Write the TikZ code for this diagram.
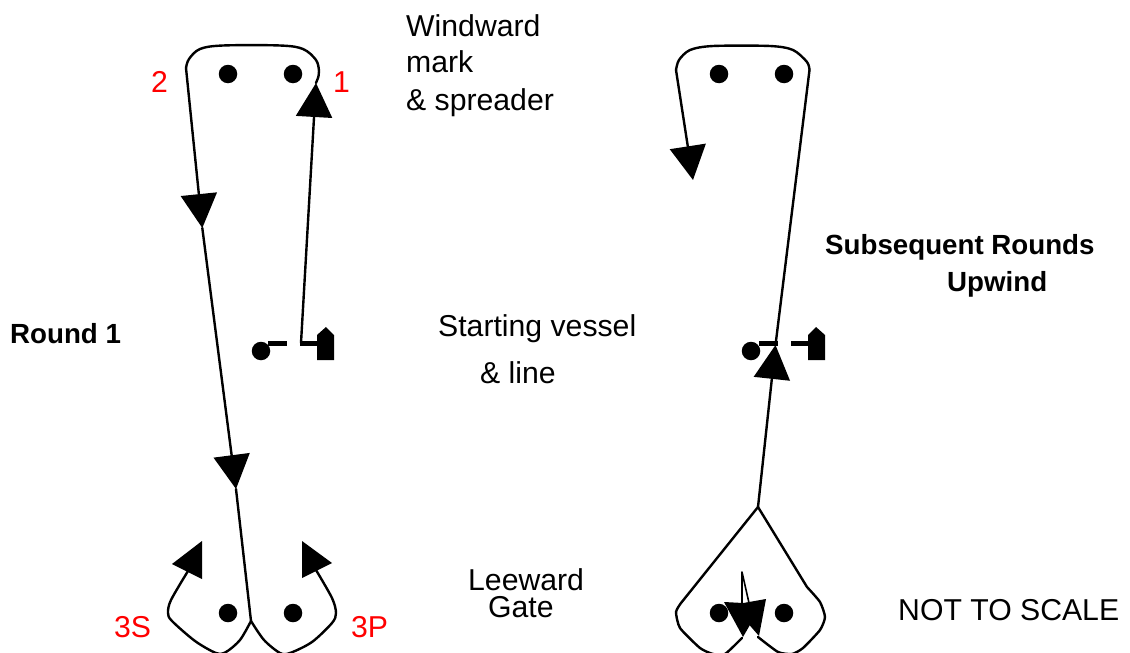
\documentclass[tikz,border=0pt]{standalone}
\usepackage{fontspec}
\setmainfont{Liberation Sans}
\usetikzlibrary{arrows.meta}
\tikzset{
  course/.style={draw=black,line width=2.4pt,line join=round,line cap=round},
  arrowed/.style={course,-{Triangle[length=34pt,width=36pt]}},
  head/.style={fill=black,draw=none},
  thin spike/.style={draw=black,line width=1.6pt,line join=round},
  mark dot/.style={circle,fill=black,draw=none,minimum size=18.5pt,inner sep=0pt},
  startline/.style={draw=black,line width=5pt},
  vessel/.style={fill=black,draw=none},
  label/.style={anchor=base west,inner sep=0pt,font=\fontsize{30.2}{34}\selectfont,text=black},
  redlabel/.style={label,text=red},
  boldlabel/.style={anchor=base west,inner sep=0pt,font=\fontsize{27.7}{32}\bfseries\selectfont,text=black},
}
\begin{document}
\begin{tikzpicture}[x=1pt,y=-1pt]
\clip (0,0) rectangle (1130,653);
% marks
\node[mark dot] (wl1) at (228,74) {};
\node[mark dot] (wr1) at (293,74) {};
\node[mark dot] (gl1) at (228,613) {};
\node[mark dot] (gr1) at (293,613) {};
\node[mark dot] (sd1) at (261,351) {};
\node[mark dot] (wl2) at (719,74) {};
\node[mark dot] (wr2) at (784,74) {};
\node[mark dot] (gl2) at (719,613) {};
\node[mark dot] (gr2) at (784,613) {};
\node[mark dot] (sd2) at (751,351) {};
% junctions
\coordinate (s1) at (301,343);
\coordinate (t1) at (316,83);
\coordinate (t2) at (202.3,228);
\coordinate (t3) at (236,489);
\coordinate (j1) at (251,621);
\coordinate (apex) at (758,507);
\coordinate (t4) at (775.5,345);
\coordinate (top2) at (809.5,70);
\coordinate (t5) at (693,180);
% start lines and vessels
\draw[startline] (268,343) -- (287,343);
\draw[startline] (300,343) -- (318,343);
\fill[vessel] (317,360) -- (317,335) -- (326,327) -- (334,335) -- (334,360) -- cycle;
\draw[startline] (759,343) -- (778,343);
\draw[startline] (791,343) -- (808,343);
\fill[vessel] (808,360) -- (808,335) -- (816,327) -- (825,335) -- (825,360) -- cycle;
% round 1
\draw[arrowed] (s1) -- (t1);
\draw[course] (t1) -- (318,78) plot[smooth,tension=.55] coordinates {(318,78) (319,71) (316,60) (303,49) (280,45.5) (223,45.5) (200,49) (189,59) (186,68)};
\draw[arrowed] (186,68) -- (t2);
\draw[arrowed] (t2) -- (t3);
\draw[course] (t3) -- (j1);
\draw[course] plot[smooth,tension=.5] coordinates {(j1) (240,640) (226,652) (216,653) (195,641) (172,621) (168,613) (171,600) (188,571)};
\fill[head] (172,564) -- (202,541) -- (202,579) -- cycle;
\draw[course] plot[smooth,tension=.5] coordinates {(j1) (264,640) (280,653) (290,653) (312,642) (332,623) (336,613) (332,598) (316,570)};
\fill[head] (332,563) -- (302,541) -- (302,578) -- cycle;
% subsequent rounds
\draw[arrowed] (apex) -- (t4);
\draw[course] (t4) -- (top2);
\draw[course] plot[smooth,tension=.5] coordinates {(top2) (807,62) (793,50) (770,46) (713,46) (690,50) (679,60) (676,70)};
\draw[arrowed] (676,70) -- (t5);
\draw[course] (apex) -- (681,603);
\draw[course] plot[smooth,tension=.35] coordinates {(681,603) (676,612) (680,628) (700,648) (713,654) (725,654) (742,638)};
\draw[course] (apex) -- (807,587);
\draw[course] plot[smooth,tension=.35] coordinates {(807,587) (820,602) (825,617) (820,630) (803,648) (792,654) (778,652) (758,637)};
\draw[thin spike] (742,603) -- (742,572) -- (749,603);
\fill[head] (743,637) -- (724,602) -- (762,604) -- cycle;
\fill[head] (759,636) -- (732,605) -- (766,599) -- cycle;
% texts
\node[label] (wind1) at (406,36) {Windward};
\node[label] (wind2) at (406,72) {mark};
\node[label] (wind3) at (406,110) {\& spreader};
\node[label] (start1) at (438,336) {Starting vessel};
\node[label] (start2) at (480,383) {\& line};
\node[label] (lee1) at (468,590) {Leeward};
\node[label] (lee2) at (488,617) {Gate};
\node[label] (scale) at (898,620) {NOT TO SCALE};
\node[redlabel] (n2) at (151,92) {2};
\node[redlabel] (n1) at (333,92) {1};
\node[redlabel] (n3s) at (114,637) {3S};
\node[redlabel] (n3p) at (351,637) {3P};
\node[boldlabel] (round) at (10,343) {Round 1};
\node[boldlabel] (sub) at (825,254) {Subsequent Rounds};
\node[boldlabel] (up) at (947,291) {Upwind};
\end{tikzpicture}
\end{document}
